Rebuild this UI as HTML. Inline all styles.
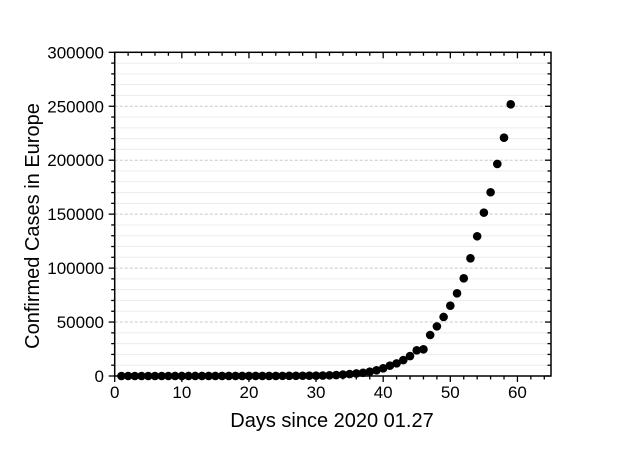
<!DOCTYPE html>
<html><head><meta charset="utf-8"><style>
html,body{margin:0;padding:0;background:#fff;}
svg{display:block;font-family:"Liberation Sans",sans-serif;}
</style></head><body>
<svg id="chart" width="640" height="452"></svg>
<script>
const days = [];
for (let d = 1; d <= 59; d++) days.push(d);
const cases = [2,3,3,4,5,5,8,10,12,14,16,18,20,22,25,28,30,35,40,45,50,60,70,90,110,140,180,230,280,300,400,600,900,1300,1800,2400,3000,4000,5300,7100,9600,11700,14800,18500,23800,24700,38000,46000,54700,65200,76600,90500,109100,129500,151400,170300,196500,220900,251800];
const xTicks = [0,10,20,30,40,50,60];
const yTicks = [0,50000,100000,150000,200000,250000,300000];
const X0=114.7,X1=551,Y0=376,Y1=52.3,XMAX=65,YMAX=300000;
const sx=v=>X0+v/XMAX*(X1-X0);
const sy=v=>Y0-v/YMAX*(Y0-Y1);
const svg=document.getElementById('chart');
const NS='http://www.w3.org/2000/svg';
function mk(t,a,p){const e=document.createElementNS(NS,t);for(const k in a)e.setAttribute(k,a[k]);(p||svg).appendChild(e);return e;}
for(let v=10000;v<YMAX;v+=10000){
 const major=v%50000===0;
 const g=mk('line',{x1:X0,x2:X1,y1:sy(v),y2:sy(v),stroke:major?'#c8c8c8':'#ececec','stroke-width':1,'stroke-dasharray':major?'3,2':'none'});
 
 
}
for(let v=0;v<=XMAX;v+=2){
 const major=v%10===0,len=major?6:3.5;
 const t=mk('line',{x1:sx(v),x2:sx(v),y1:Y0,y2:Y0+len,stroke:'#000','stroke-width':1.3});
 
 
 const t2=mk('line',{x1:sx(v),x2:sx(v),y1:Y1,y2:Y1+len,stroke:'#000','stroke-width':1.3});
 
 
}
for(let v=0;v<=YMAX;v+=10000){
 const major=v%50000===0,len=major?6:3.5;
 const t=mk('line',{x1:X0-len,x2:X0,y1:sy(v),y2:sy(v),stroke:'#000','stroke-width':1.3});
 
 
 const t2=mk('line',{x1:X1-len,x2:X1,y1:sy(v),y2:sy(v),stroke:'#000','stroke-width':1.3});
 
 
}
const frame=mk('rect',{x:X0,y:Y1,width:X1-X0,height:Y0-Y1,fill:'none',stroke:'#000','stroke-width':1.5});


xTicks.forEach(v=>{
 const t=mk('text',{x:sx(v),y:398,'text-anchor':'middle','font-size':17,fill:'#000'});
 t.textContent=v;
 
 
});
yTicks.forEach(v=>{
 const t=mk('text',{x:104,y:sy(v)+6,'text-anchor':'end','font-size':17,fill:'#000'});
 t.textContent=v;
 
 
});
days.forEach((d,i)=>{
 const c=mk('circle',{cx:sx(d),cy:sy(cases[i]),r:4.3,fill:'#000'});
 
 
});
const xt=mk('text',{x:332,y:427,'text-anchor':'middle','font-size':20,fill:'#000'});
xt.textContent='Days since 2020 01.27';


const yt=mk('text',{x:0,y:0,'text-anchor':'middle','font-size':20,fill:'#000',transform:'translate(39,226) rotate(-90)'});
yt.textContent='Confirmed Cases in Europe';


</script>
</body></html>
